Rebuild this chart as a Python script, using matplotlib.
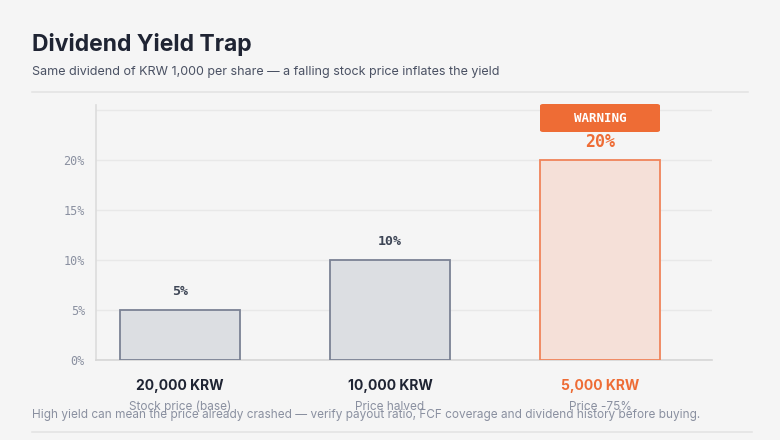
import matplotlib
matplotlib.use('Agg')
import matplotlib.pyplot as plt
from matplotlib.patches import FancyBboxPatch

# data
prices = ['20,000 KRW', '10,000 KRW', '5,000 KRW']
notes = ['Stock price (base)', 'Price halved', 'Price -75%']
yields = [5, 10, 20]
yticks = [0, 5, 10, 15, 20, 25]
ytick_labels = ['0%', '5%', '10%', '15%', '20%', '']

BG = '#f5f5f5'
ORANGE = '#ee6c35'
DARK = '#1f2433'
GREY = '#8a90a0'
MONO = 'DejaVu Sans Mono'

plt.rcParams['font.family'] = ['Inter', 'DejaVu Sans']

fig = plt.figure(figsize=(7.8, 4.4), dpi=100, facecolor=BG)
W, H = 780, 440
ax = fig.add_axes([96 / W, 1 - 360 / H, (712 - 96) / W, (360 - 105) / H])
ax.set_facecolor(BG)

x = list(range(len(yields)))
fills = ['#dcdee2', '#dcdee2', '#f5e0d8']
edges = ['#7b8294', '#7b8294', '#f0845a']
ax.bar(x, yields, width=0.571, color=fills, edgecolor=edges, linewidth=1.3, zorder=3)

ax.set_xlim(-0.4, 2.533)
ax.set_ylim(0, 25.5)
ax.set_yticks(yticks)
ax.set_yticklabels(ytick_labels, family=MONO, fontsize=8.5, color=GREY)
ax.tick_params(axis='y', length=0, pad=8)
ax.set_xticks([])
ax.grid(axis='y', color='#e8e8e8', linewidth=1, zorder=0)
for s in ['top', 'right']:
    ax.spines[s].set_visible(False)
ax.spines['left'].set_color('#dcdcdc')
ax.spines['bottom'].set_color('#d6d6d6')
ax.spines['left'].set_linewidth(1.2)
ax.spines['bottom'].set_linewidth(1.2)

# value labels
for i, v in enumerate(yields):
    c = ORANGE if i == 2 else '#3d4555'
    fs = 12 if i == 2 else 9.5
    ax.annotate(f'{v}%', (i, v), xytext=(0, 13), textcoords='offset points',
                ha='center', va='center', family=MONO, fontweight='bold',
                fontsize=fs, color=c)

# warning badge
box = FancyBboxPatch((540 / W, 1 - 132 / H), 120 / W, 28 / H,
                     boxstyle='round,pad=0,rounding_size=0.004',
                     transform=fig.transFigure, facecolor=ORANGE, edgecolor='none')
fig.patches.append(box)
fig.text(600 / W, 1 - 118 / H, 'WARNING', ha='center', va='center',
         family=MONO, fontweight='bold', fontsize=9, color='white')

# category labels
for i in x:
    xf = (180 + 210 * i) / W
    fig.text(xf, 1 - 386 / H, prices[i], ha='center', va='center', fontsize=10,
             fontweight='bold', color=ORANGE if i == 2 else DARK)
    fig.text(xf, 1 - 407 / H, notes[i], ha='center', va='center', fontsize=8.5,
             color=GREY)

fig.text(32 / W, 1 - 44 / H, 'Dividend Yield Trap', fontsize=16.5, fontweight='bold',
         color=DARK, va='center')
fig.text(32 / W, 1 - 72 / H,
         'Same dividend of KRW 1,000 per share \u2014 a falling stock price inflates the yield',
         fontsize=9, color='#4a5163', va='center')
fig.add_artist(plt.Line2D([32 / W, 748 / W], [1 - 92 / H] * 2, color='#e4e4e4', lw=1.2))
fig.text(32 / W, 1 - 415 / H,
         'High yield can mean the price already crashed \u2014 verify payout ratio, FCF coverage and dividend history before buying.',
         fontsize=8.5, color=GREY, va='center')
fig.add_artist(plt.Line2D([32 / W, 752 / W], [1 - 432 / H] * 2, color='#e4e4e4', lw=1.2))

fig.savefig('out.png', dpi=100, facecolor=BG)
